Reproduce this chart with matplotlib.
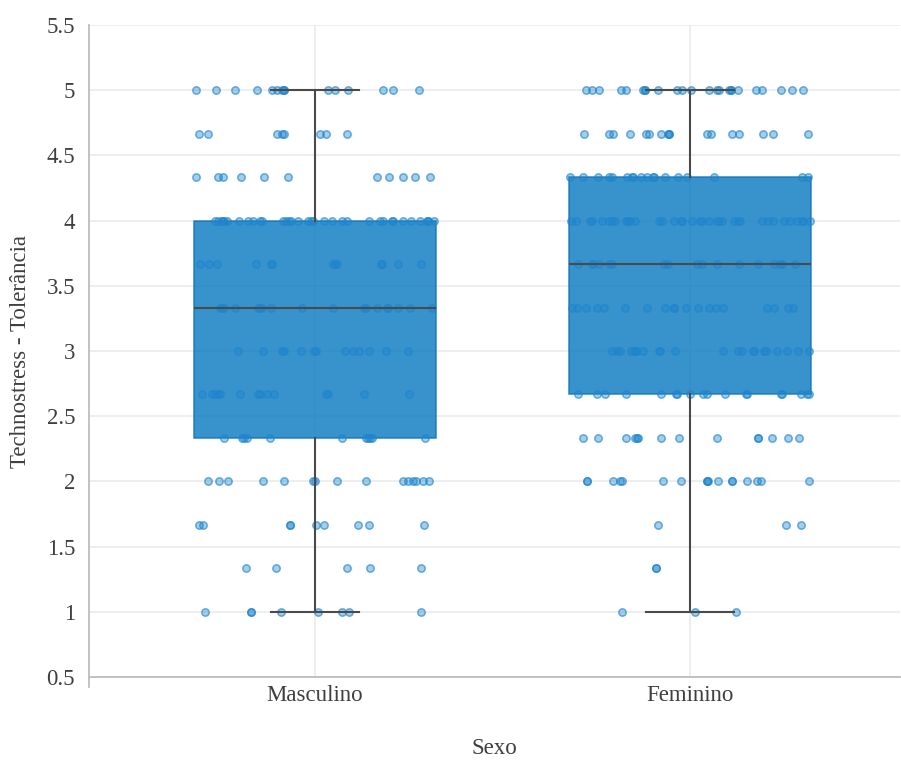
import matplotlib
matplotlib.use("Agg")
import matplotlib.pyplot as plt

# categories and response levels
groups = ["Masculino", "Feminino"]
levels = [1.0, 1.333, 1.667, 2.0, 2.333, 2.667, 3.0, 3.333, 3.667, 4.0, 4.333, 4.667, 5.0]

# box statistics
medians = [3.333, 3.667]
q1 = [2.333, 2.667]
q3 = [4.0, 4.333]
whisker_low = [1.0, 1.0]
whisker_high = [5.0, 5.0]

# horizontal jitter of each observation (category units), one list per level
masc_jitter = [
    [-0.293, -0.171, -0.171, -0.091, 0.007, 0.071, 0.091, 0.283],
    [-0.185, -0.104, 0.085, 0.147, 0.282],
    [-0.309, -0.299, -0.067, -0.067, 0.002, 0.024, 0.115, 0.145, 0.291],
    [-0.285, -0.255, -0.233, -0.139, -0.083, -0.006, 0.0, 0.058, 0.136, 0.234, 0.249, 0.262, 0.269, 0.289, 0.305],
    [-0.242, -0.195, -0.189, -0.182, -0.12, 0.071, 0.135, 0.141, 0.147, 0.151, 0.293],
    [-0.302, -0.274, -0.267, -0.259, -0.253, -0.2, -0.153, -0.147, -0.127, -0.109, 0.029, 0.035, 0.131, 0.251],
    [-0.205, -0.139, -0.087, -0.082, -0.037, -0.002, 0.003, 0.08, 0.102, 0.117, 0.144, 0.189, 0.247],
    [-0.253, -0.249, -0.242, -0.213, -0.153, -0.147, -0.141, -0.118, -0.034, 0.047, 0.131, 0.135, 0.165,
     0.193, 0.195, 0.221, 0.253, 0.313],
    [-0.307, -0.282, -0.261, -0.157, -0.117, -0.114, 0.047, 0.053, 0.058, 0.176, 0.179, 0.222, 0.283],
    [-0.267, -0.259, -0.249, -0.249, -0.242, -0.235, -0.203, -0.178, -0.165, -0.147, -0.142, -0.086, -0.077,
     -0.069, -0.064, -0.045, -0.018, -0.011, -0.005, 0.025, 0.045, 0.071, 0.085, 0.145, 0.173, 0.182, 0.205,
     0.209, 0.234, 0.256, 0.28, 0.299, 0.302, 0.302, 0.318],
    [-0.317, -0.258, -0.245, -0.198, -0.137, -0.071, 0.165, 0.198, 0.234, 0.267, 0.306],
    [-0.309, -0.285, -0.102, -0.089, -0.082, 0.013, 0.029, 0.086],
    [-0.318, -0.265, -0.213, -0.154, -0.114, -0.102, -0.089, -0.082, -0.082, 0.034, 0.053, 0.087, 0.182,
     0.207, 0.277],
]

fem_jitter = [
    [-0.181, 0.013, 0.122],
    [-0.091, -0.091],
    [-0.086, 0.256, 0.296],
    [-0.274, -0.274, -0.205, -0.187, -0.181, -0.071, -0.025, 0.045, 0.045, 0.049, 0.075, 0.111, 0.111,
     0.153, 0.178, 0.189, 0.318],
    [-0.285, -0.245, -0.171, -0.147, -0.142, -0.139, -0.078, -0.029, 0.071, 0.181, 0.181, 0.219, 0.261, 0.291],
    [-0.298, -0.249, -0.227, -0.171, -0.078, -0.037, -0.035, 0.0, 0.035, 0.045, 0.093, 0.149, 0.151, 0.243,
     0.245, 0.295, 0.311, 0.318],
    [-0.209, -0.195, -0.187, -0.158, -0.149, -0.144, -0.144, -0.125, -0.083, -0.08, -0.04, 0.089, 0.129,
     0.138, 0.167, 0.171, 0.198, 0.203, 0.233, 0.258, 0.289, 0.318],
    [-0.315, -0.302, -0.277, -0.249, -0.229, -0.173, -0.114, -0.067, -0.043, -0.043, -0.011, 0.021, 0.051,
     0.069, 0.089, 0.205, 0.224, 0.262, 0.274],
    [-0.298, -0.261, -0.258, -0.242, -0.215, -0.209, -0.069, -0.058, 0.018, 0.033, 0.073, 0.131, 0.182,
     0.224, 0.24, 0.245, 0.28],
    [-0.317, -0.304, -0.267, -0.261, -0.234, -0.216, -0.209, -0.2, -0.171, -0.165, -0.16, -0.147, -0.083,
     -0.075, -0.043, -0.025, -0.021, 0.005, 0.027, 0.031, 0.051, 0.071, 0.078, 0.086, 0.118, 0.129, 0.133,
     0.193, 0.209, 0.222, 0.251, 0.267, 0.285, 0.298, 0.301, 0.32],
    [-0.32, -0.285, -0.245, -0.215, -0.209, -0.169, -0.155, -0.151, -0.131, -0.114, -0.099, -0.096, -0.067,
     -0.031, -0.007, 0.064, 0.298, 0.315],
    [-0.282, -0.215, -0.206, -0.16, -0.117, -0.109, -0.078, -0.059, -0.056, -0.056, 0.045, 0.055, 0.111,
     0.131, 0.194, 0.222, 0.314],
    [-0.277, -0.262, -0.242, -0.185, -0.171, -0.125, -0.12, -0.12, -0.085, -0.034, -0.021, 0.003, 0.051,
     0.071, 0.078, 0.105, 0.109, 0.109, 0.127, 0.175, 0.191, 0.243, 0.271, 0.302],
]

y_ticks = [0.5, 1, 1.5, 2, 2.5, 3, 3.5, 4, 4.5, 5, 5.5]
y_tick_labels = ["0.5", "1", "1.5", "2", "2.5", "3", "3.5", "4", "4.5", "5", "5.5"]

TEXT = "#3f3f3f"
AXIS_GRAY = "#bdbdbd"
GRID = "#ebebeb"
BLUE = "#1580c4"

plt.rcParams["font.family"] = ["Liberation Serif", "DejaVu Serif"]

fig = plt.figure(figsize=(9.01, 7.6), dpi=100)
ax = fig.add_axes([89 / 901, 83 / 760, 811 / 901, 652 / 760])

# boxes
stats = []
for i, name in enumerate(groups):
    stats.append(dict(label=name, med=medians[i], q1=q1[i], q3=q3[i],
                      whislo=whisker_low[i], whishi=whisker_high[i], fliers=[]))

line_style = dict(color="#4a4a4a", linewidth=1.5, zorder=4)
ax.bxp(stats, positions=[0, 1], widths=0.643, capwidths=0.237, patch_artist=True,
       showfliers=False, manage_ticks=False,
       boxprops=dict(facecolor=BLUE, edgecolor="#0f74b8", linewidth=1.1, alpha=0.85, zorder=2),
       whiskerprops=line_style, capprops=line_style, medianprops=line_style)

# jittered points
for pos, jitter in enumerate([masc_jitter, fem_jitter]):
    xs, ys = [], []
    for level, offs in zip(levels, jitter):
        for o in offs:
            xs.append(pos + o)
            ys.append(level)
    ax.scatter(xs, ys, s=28, facecolor=(0.12, 0.52, 0.80, 0.40),
               edgecolor=(0.12, 0.52, 0.80, 0.65), linewidth=1.1, zorder=3)

ax.set_xlim(-0.6027, 1.56)
ax.set_ylim(0.5, 5.5)
ax.set_xticks([0, 1])
ax.set_xticklabels(groups)
ax.set_yticks(y_ticks)
ax.set_yticklabels(y_tick_labels)
ax.set_yticks([0.5, 5.5], minor=True)

ax.grid(True, color=GRID, linewidth=1.2)
ax.set_axisbelow(True)

for side in ["top", "right"]:
    ax.spines[side].set_visible(False)
ax.spines["left"].set_color(AXIS_GRAY)
ax.spines["left"].set_linewidth(1.3)
ax.spines["left"].set_bounds(0.42, 5.5)
ax.spines["bottom"].set_color(AXIS_GRAY)
ax.spines["bottom"].set_linewidth(1.3)

ax.tick_params(which="major", length=0, labelsize=16.5, labelcolor=TEXT)
ax.tick_params(axis="y", which="major", pad=10)
ax.tick_params(axis="x", which="major", pad=6)
ax.tick_params(axis="y", which="minor", length=7, width=1.3, color=AXIS_GRAY)

ax.set_xlabel("Sexo", fontsize=16.5, color=TEXT)
ax.set_ylabel("Technostress - Tolerância", fontsize=16.5, color=TEXT)
ax.xaxis.set_label_coords(0.5, -0.1104)
ax.xaxis.label.set_va("center")
ax.yaxis.set_label_coords(-0.085, 0.5)
ax.yaxis.label.set_va("center")

fig.savefig("out.png", dpi=100, facecolor="white")
